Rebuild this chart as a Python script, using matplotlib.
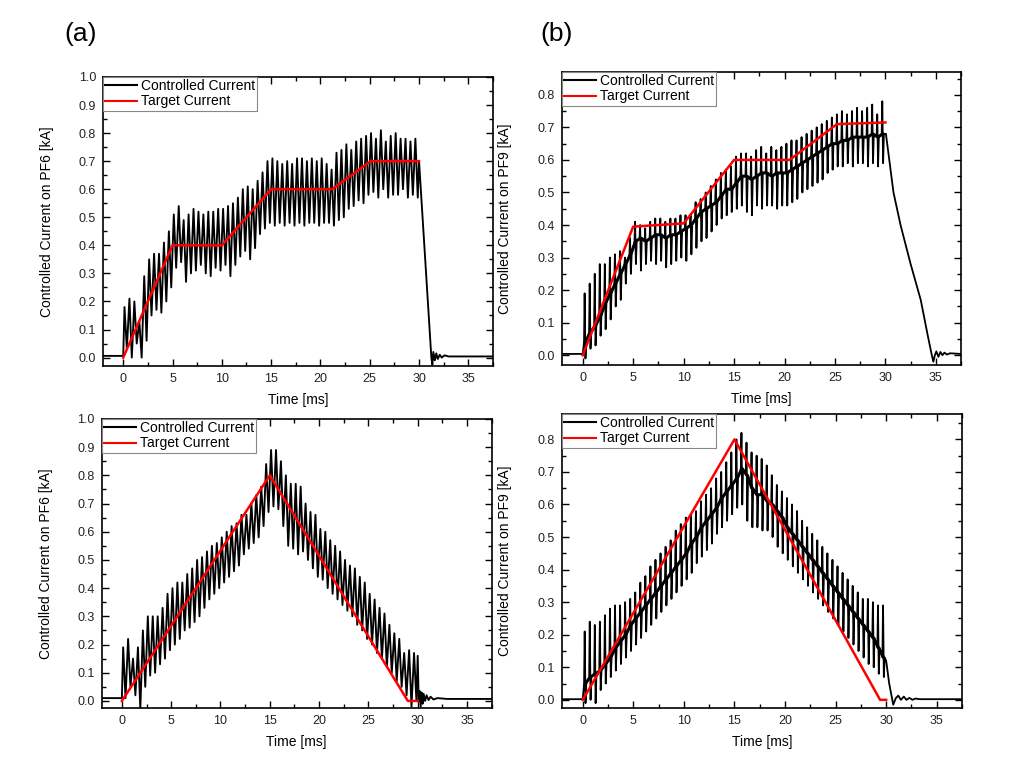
import numpy as np
import matplotlib
matplotlib.use("Agg")
import matplotlib.pyplot as plt
from matplotlib.ticker import MultipleLocator, AutoMinorLocator
from matplotlib.lines import Line2D

plt.rcParams["font.family"] = ["Liberation Sans", "DejaVu Sans"]

# ========================
# DATA
# ========================
# spike instants of the controller (one every 0.5 ms)
spk_t = np.arange(0.25, 30.0, 0.5)

# --- (a) top : PF6, stepped target ---
tgt_a1_t = [0, 5, 10, 15, 21.2, 25.1, 30]
tgt_a1_v = [0, 0.40, 0.40, 0.60, 0.60, 0.70, 0.70]
hi_a1 = [0.18, 0.21, 0.20, 0.13, 0.29, 0.35, 0.37, 0.37, 0.41, 0.45,
         0.51, 0.54, 0.49, 0.51, 0.53, 0.52, 0.51, 0.52, 0.52, 0.53,
         0.53, 0.54, 0.55, 0.57, 0.60, 0.61, 0.60, 0.63, 0.66, 0.70,
         0.71, 0.70, 0.69, 0.70, 0.69, 0.71, 0.71, 0.70, 0.71, 0.70,
         0.71, 0.69, 0.67, 0.73, 0.74, 0.76, 0.74, 0.77, 0.78, 0.79,
         0.80, 0.78, 0.81, 0.77, 0.79, 0.80, 0.78, 0.78, 0.77, 0.78]
lo_a1 = [0.03, 0.00, 0.05, 0.00, 0.06, 0.15, 0.17, 0.16, 0.20, 0.25,
         0.32, 0.34, 0.27, 0.30, 0.31, 0.33, 0.30, 0.29, 0.32, 0.31,
         0.33, 0.29, 0.33, 0.36, 0.38, 0.35, 0.39, 0.44, 0.46, 0.48,
         0.47, 0.48, 0.47, 0.48, 0.47, 0.48, 0.47, 0.48, 0.48, 0.47,
         0.48, 0.48, 0.47, 0.49, 0.50, 0.53, 0.54, 0.56, 0.55, 0.58,
         0.59, 0.57, 0.60, 0.57, 0.58, 0.58, 0.60, 0.57, 0.58, 0.57]
pre_a1 = 0.006
tail_a1_t = [30.0, 31.25, 31.35, 31.45, 31.6, 31.75, 31.9, 32.1, 32.3, 32.6, 33.0, 37.5]
tail_a1_v = [0.70, 0.0, -0.025, 0.02, -0.01, 0.015, -0.005, 0.01, 0.0, 0.008, 0.004, 0.004]

# --- (b) top : PF9, stepped target ---
tgt_b1_t = [0, 5, 10, 15, 20.5, 25.2, 30]
tgt_b1_v = [0, 0.395, 0.405, 0.60, 0.60, 0.71, 0.715]
mid_b1 = [0.04, 0.07, 0.09, 0.12, 0.16, 0.19, 0.22, 0.25, 0.28, 0.31,
          0.35, 0.36, 0.35, 0.36, 0.37, 0.37, 0.36, 0.37, 0.37, 0.38,
          0.39, 0.40, 0.42, 0.44, 0.45, 0.46, 0.47, 0.49, 0.51, 0.51,
          0.53, 0.55, 0.55, 0.54, 0.55, 0.56, 0.56, 0.55, 0.56, 0.56,
          0.56, 0.57, 0.58, 0.59, 0.60, 0.61, 0.62, 0.63, 0.64, 0.65,
          0.65, 0.66, 0.66, 0.67, 0.67, 0.67, 0.67, 0.68, 0.67, 0.68]
hi_b1 = [0.19, 0.22, 0.25, 0.28, 0.28, 0.30, 0.31, 0.32, 0.30, 0.36,
         0.41, 0.40, 0.39, 0.41, 0.42, 0.42, 0.41, 0.42, 0.42, 0.43,
         0.43, 0.43, 0.47, 0.48, 0.50, 0.52, 0.54, 0.56, 0.57, 0.58,
         0.61, 0.62, 0.62, 0.61, 0.63, 0.64, 0.62, 0.64, 0.63, 0.64,
         0.65, 0.66, 0.66, 0.67, 0.68, 0.69, 0.70, 0.71, 0.72, 0.73,
         0.74, 0.75, 0.74, 0.75, 0.76, 0.75, 0.76, 0.77, 0.74, 0.78]
lo_b1 = [-0.01, 0.02, 0.03, 0.06, 0.08, 0.11, 0.15, 0.17, 0.22, 0.25,
         0.28, 0.26, 0.28, 0.29, 0.28, 0.29, 0.27, 0.28, 0.29, 0.30,
         0.29, 0.31, 0.33, 0.35, 0.36, 0.38, 0.40, 0.42, 0.43, 0.44,
         0.45, 0.46, 0.44, 0.43, 0.46, 0.45, 0.46, 0.46, 0.45, 0.46,
         0.46, 0.47, 0.48, 0.50, 0.51, 0.52, 0.53, 0.54, 0.56, 0.57,
         0.58, 0.58, 0.59, 0.58, 0.59, 0.59, 0.58, 0.59, 0.58, 0.59]
pre_b1 = 0.004
tail_b1_t = [30.05, 30.3, 30.8, 31.5, 32.5, 33.5, 34.2, 34.6, 34.75, 34.9, 35.05,
             35.25, 35.45, 35.65, 35.85, 36.1, 36.4, 37.5]
tail_b1_v = [0.68, 0.62, 0.50, 0.40, 0.28, 0.17, 0.06, 0.0, -0.02, 0.0, 0.012,
             -0.005, 0.01, 0.0, 0.008, 0.002, 0.006, 0.004]

# --- (a) bottom : PF6, triangular target ---
tgt_a2_t = [0, 15, 29.0, 30]
tgt_a2_v = [0, 0.80, 0.0, 0.0]
hi_a2 = [0.19, 0.22, 0.15, 0.19, 0.25, 0.30, 0.30, 0.30, 0.33, 0.38,
         0.40, 0.42, 0.42, 0.45, 0.47, 0.50, 0.51, 0.53, 0.55, 0.56,
         0.58, 0.60, 0.62, 0.63, 0.66, 0.66, 0.70, 0.73, 0.76, 0.84,
         0.89, 0.89, 0.85, 0.80, 0.77, 0.77, 0.76, 0.70, 0.67, 0.66,
         0.61, 0.60, 0.57, 0.55, 0.53, 0.50, 0.48, 0.47, 0.44, 0.42,
         0.38, 0.36, 0.33, 0.31, 0.27, 0.24, 0.22, 0.17, 0.18, 0.17]
lo_a2 = [0.01, 0.05, 0.02, -0.03, 0.05, 0.09, 0.10, 0.13, 0.15, 0.18,
         0.20, 0.22, 0.25, 0.26, 0.28, 0.30, 0.33, 0.36, 0.38, 0.40,
         0.42, 0.44, 0.46, 0.48, 0.52, 0.54, 0.56, 0.58, 0.62, 0.67,
         0.69, 0.68, 0.62, 0.55, 0.54, 0.52, 0.53, 0.50, 0.47, 0.44,
         0.43, 0.40, 0.38, 0.36, 0.34, 0.32, 0.30, 0.27, 0.25, 0.22,
         0.20, 0.17, 0.15, 0.12, 0.10, 0.07, 0.05, 0.02, -0.02, 0.00]
pre_a2 = 0.01
tail_a2_t = [30.0, 30.1, 30.2, 30.3, 30.4, 30.5, 30.6, 30.75, 30.9, 31.1, 31.3,
             31.6, 32.0, 33.0, 37.5]
tail_a2_v = [0.16, 0.0, 0.035, -0.02, 0.03, -0.01, 0.025, 0.0, 0.02, 0.003, 0.015,
             0.005, 0.01, 0.007, 0.007]

# --- (b) bottom : PF9, triangular target ---
tgt_b2_t = [0, 15, 29.4, 30]
tgt_b2_v = [0, 0.80, 0.0, 0.0]
mid_b2 = [0.05, 0.07, 0.08, 0.09, 0.11, 0.13, 0.16, 0.18, 0.20, 0.23,
          0.25, 0.27, 0.29, 0.31, 0.33, 0.35, 0.37, 0.39, 0.41, 0.43,
          0.45, 0.48, 0.50, 0.53, 0.55, 0.57, 0.59, 0.62, 0.64, 0.66,
          0.68, 0.71, 0.69, 0.65, 0.63, 0.63, 0.61, 0.60, 0.58, 0.56,
          0.53, 0.51, 0.49, 0.47, 0.45, 0.43, 0.41, 0.39, 0.37, 0.35,
          0.33, 0.31, 0.29, 0.27, 0.25, 0.23, 0.21, 0.19, 0.16, 0.13]
hi_b2 = [0.21, 0.24, 0.23, 0.24, 0.26, 0.28, 0.29, 0.29, 0.30, 0.31,
         0.33, 0.36, 0.38, 0.41, 0.43, 0.45, 0.47, 0.49, 0.52, 0.54,
         0.56, 0.57, 0.58, 0.61, 0.63, 0.65, 0.68, 0.70, 0.73, 0.76,
         0.80, 0.82, 0.79, 0.76, 0.75, 0.74, 0.72, 0.69, 0.66, 0.64,
         0.62, 0.60, 0.58, 0.55, 0.53, 0.51, 0.49, 0.47, 0.45, 0.43,
         0.41, 0.39, 0.37, 0.35, 0.33, 0.31, 0.31, 0.30, 0.29, 0.29]
lo_b2 = [-0.01, 0.00, -0.01, 0.03, 0.05, 0.07, 0.09, 0.11, 0.13, 0.15,
         0.17, 0.19, 0.21, 0.23, 0.25, 0.27, 0.29, 0.31, 0.33, 0.35,
         0.37, 0.39, 0.42, 0.44, 0.46, 0.48, 0.51, 0.53, 0.55, 0.57,
         0.59, 0.60, 0.55, 0.53, 0.53, 0.52, 0.52, 0.50, 0.47, 0.45,
         0.43, 0.41, 0.39, 0.37, 0.35, 0.33, 0.31, 0.29, 0.27, 0.25,
         0.23, 0.21, 0.19, 0.17, 0.15, 0.13, 0.11, 0.10, 0.08, 0.07]
pre_b2 = 0.002
tail_b2_t = [30.0, 30.3, 30.7, 30.95, 31.2, 31.45, 31.75, 32.0, 32.3, 32.6, 32.9, 33.3, 37.5]
tail_b2_v = [0.12, 0.05, -0.015, 0.005, 0.013, 0.0, 0.01, 0.0, 0.006, 0.0, 0.004, 0.002, 0.002]


# ========================
# HELPERS
# ========================
def sawtooth(pre, hi, lo, tail_t, tail_v):
    # trough -> peak -> trough at every spike instant
    xs, ys = [-2.5, 0.0], [pre, pre]
    for t, h, l in zip(spk_t, hi, lo):
        xs += [t - 0.12, t + 0.12]
        ys += [h, l]
    return xs + list(tail_t), ys + list(tail_v)


def spiky(pre, mid, hi, lo, tail_t, tail_v):
    # slow mean current with a short up/down spike at every instant
    xs, ys = [-2.5, 0.0], [pre, pre]
    for t, m, h, l in zip(spk_t, mid, hi, lo):
        xs += [t - 0.12, t - 0.06, t + 0.02, t + 0.1]
        ys += [m, h, l, m]
    return xs + list(tail_t), ys + list(tail_v)


def style_axes(ax, ytop, ylabel, ymin=-0.03):
    ax.set_xlim(-2.05, 37.5)
    ax.set_ylim(ymin, ytop)
    ax.xaxis.set_major_locator(MultipleLocator(5))
    ax.xaxis.set_minor_locator(AutoMinorLocator(2))
    ax.yaxis.set_major_locator(MultipleLocator(0.1))
    ax.yaxis.set_minor_locator(AutoMinorLocator(2))
    ax.yaxis.set_major_formatter(plt.FormatStrFormatter("%.1f"))
    ax.tick_params(which="both", direction="in", top=True, right=True,
                   labelsize=9, width=1.0, labelcolor="#222222")
    ax.tick_params(which="major", length=5, pad=5)
    ax.tick_params(which="minor", length=3)
    for s in ax.spines.values():
        s.set_linewidth(1.2)
    ax.set_xlabel("Time [ms]", fontsize=10, labelpad=6)
    ax.set_ylabel(ylabel, fontsize=10)
    ax.yaxis.set_label_coords(-0.125, 0.5)
    handles = [Line2D([], [], color="black", lw=1.5),
               Line2D([], [], color="red", lw=1.5)]
    leg = ax.legend(handles, ["Controlled Current", "Target Current"],
                    loc="upper left", borderaxespad=0, fancybox=False,
                    framealpha=1, edgecolor="#888888", fontsize=10,
                    handlelength=2.3, handletextpad=0.3, borderpad=0.15,
                    labelspacing=0.1)
    leg.get_frame().set_linewidth(0.8)


# ========================
# FIGURE
# ========================
fig = plt.figure(figsize=(10.29, 7.62), dpi=100)
ax_a1 = fig.add_axes([0.1001, 0.5197, 0.379, 0.3793])
ax_b1 = fig.add_axes([0.5462, 0.5210, 0.3878, 0.3845])
ax_a2 = fig.add_axes([0.0988, 0.0709, 0.379, 0.3793])
ax_b2 = fig.add_axes([0.5462, 0.0709, 0.3887, 0.3858])

x, y = sawtooth(pre_a1, hi_a1, lo_a1, tail_a1_t, tail_a1_v)
ax_a1.plot(x, y, color="black", lw=1.35)
ax_a1.plot(tgt_a1_t, tgt_a1_v, color="red", lw=1.8)
style_axes(ax_a1, 1.0, "Controlled Current on PF6 [kA]")

x, y = spiky(pre_b1, mid_b1, hi_b1, lo_b1, tail_b1_t, tail_b1_v)
ax_b1.plot(x, y, color="black", lw=1.3)
ax_b1.plot(spk_t, mid_b1, color="black", lw=2.2)
ax_b1.plot(tgt_b1_t, tgt_b1_v, color="red", lw=1.8)
style_axes(ax_b1, 0.87, "Controlled Current on PF9 [kA]")

x, y = sawtooth(pre_a2, hi_a2, lo_a2, tail_a2_t, tail_a2_v)
ax_a2.plot(x, y, color="black", lw=1.35)
ax_a2.plot(tgt_a2_t, tgt_a2_v, color="red", lw=1.8)
style_axes(ax_a2, 1.0, "Controlled Current on PF6 [kA]", ymin=-0.025)

x, y = spiky(pre_b2, mid_b2, hi_b2, lo_b2, tail_b2_t, tail_b2_v)
ax_b2.plot(x, y, color="black", lw=1.3)
ax_b2.plot(spk_t, mid_b2, color="black", lw=2.2)
ax_b2.plot(tgt_b2_t, tgt_b2_v, color="red", lw=1.8)
style_axes(ax_b2, 0.878, "Controlled Current on PF9 [kA]", ymin=-0.025)

fig.text(64 / 1029, 1 - 34 / 762, "(a)", fontsize=19, va="center", ha="left")
fig.text(540 / 1029, 1 - 34 / 762, "(b)", fontsize=19, va="center", ha="left")

fig.savefig("out.png", dpi=100)
